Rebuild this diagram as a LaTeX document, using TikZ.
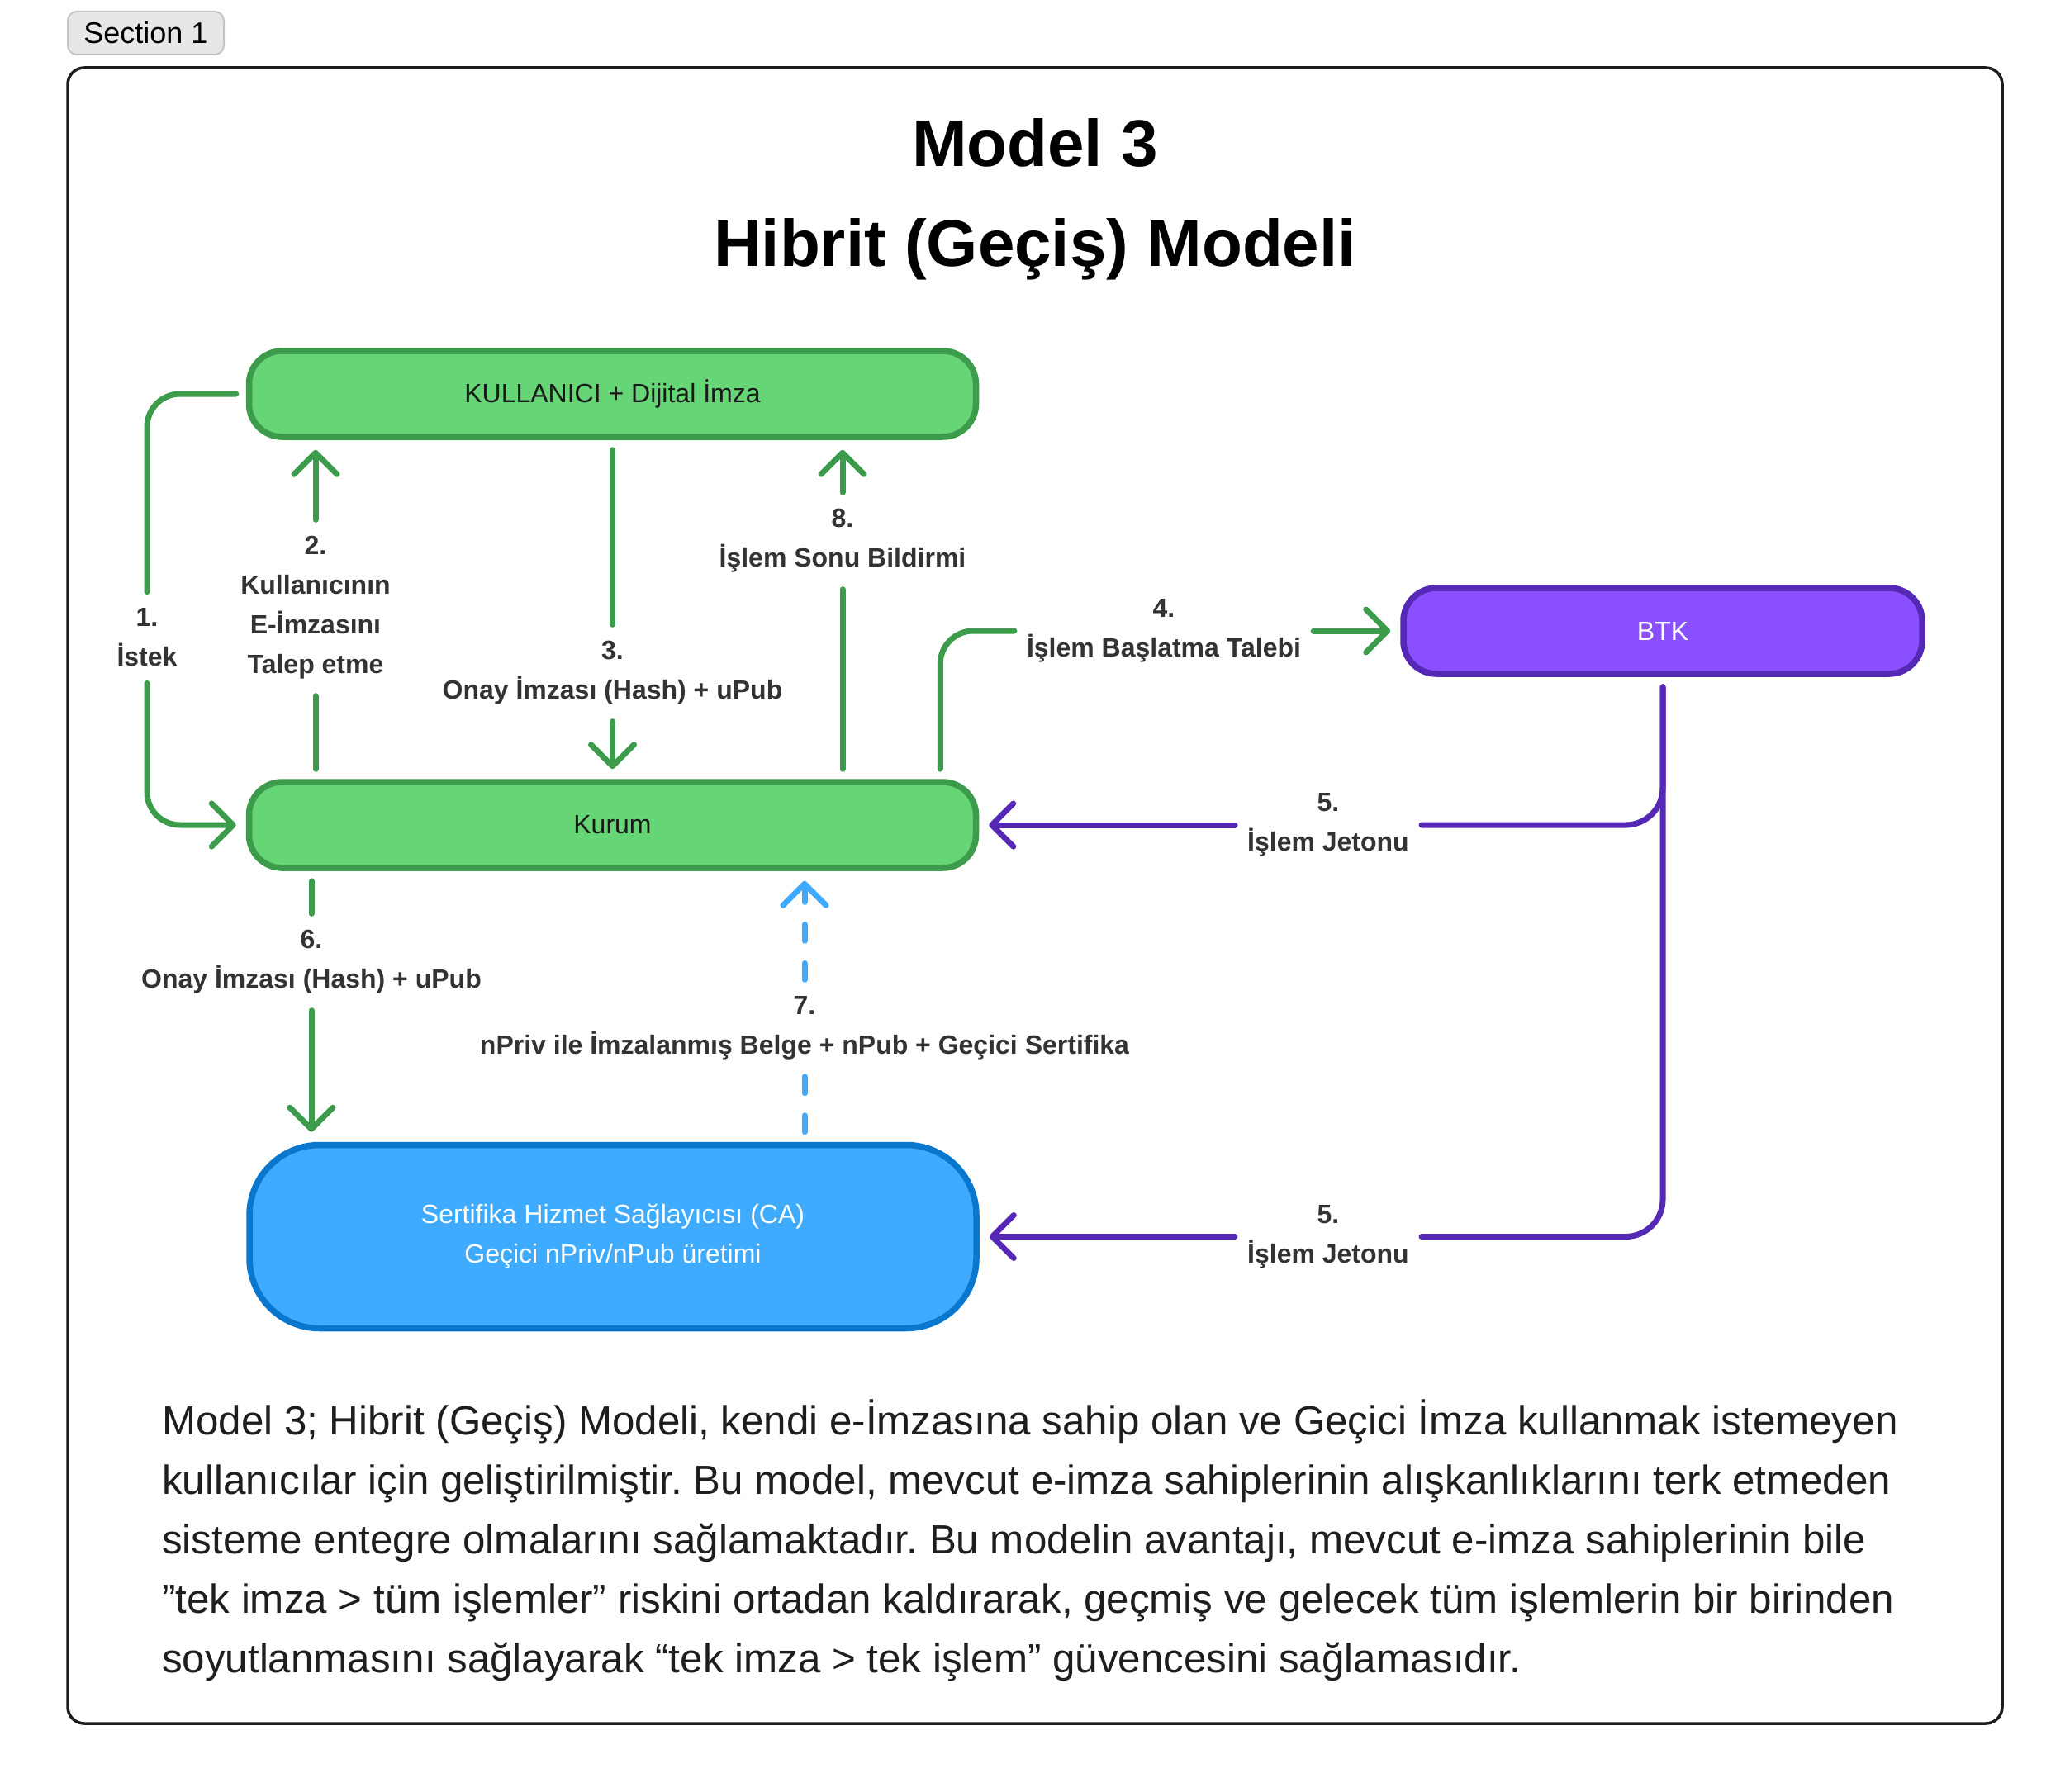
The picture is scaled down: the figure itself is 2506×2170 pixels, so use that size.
\documentclass[tikz,border=0pt]{standalone}
\usepackage{fontspec}
\setmainfont{Liberation Sans}
\usetikzlibrary{arrows.meta,calc}
\frenchspacing
\definecolor{gfill}{HTML}{66D575}
\definecolor{gdraw}{HTML}{3D9B4C}
\definecolor{pfill}{HTML}{8A50FF}
\definecolor{pdraw}{HTML}{5528B5}
\definecolor{bfill}{HTML}{3FABFF}
\definecolor{bdraw}{HTML}{0A77CF}
\definecolor{bdash}{HTML}{3FAAFF}
\definecolor{lblc}{HTML}{333333}
\definecolor{framec}{HTML}{1C1C1C}
\definecolor{tabfill}{HTML}{E7E7E7}
\definecolor{tabdraw}{HTML}{C4C4C4}
\definecolor{parac}{HTML}{1E1E1E}
\tikzset{
  boxbase/.style={rectangle, rounded corners=40pt, line width=7.5pt, minimum height=104pt,
    inner sep=0pt, font=\fontsize{32}{48}\selectfont, align=center},
  gbox/.style={boxbase, fill=gfill, draw=gdraw, text=black!90, minimum width=880pt},
  pbox/.style={boxbase, fill=pfill, draw=pdraw, text=white, minimum width=628pt},
  cabox/.style={boxbase, fill=bfill, draw=bdraw, text=white, minimum width=880pt,
    minimum height=222pt, rounded corners=85pt},
  lab/.style={font=\bfseries\fontsize{32}{48}\selectfont, text=lblc, align=center,
    inner xsep=15pt, inner ysep=20pt},
  lnk/.style={line width=7pt, line cap=round, line join=round},
  gl/.style={lnk, draw=gdraw},
  pl/.style={lnk, draw=pdraw},
  bl/.style={lnk, draw=bdash, dash pattern=on 20pt off 27pt},
  arr/.style={-{Straight Barb[length=26pt,width=52pt,round]}},
  para/.style={anchor=base west, inner sep=0pt, text=parac, font=\fontsize{49.3}{72}\selectfont},
  ttl/.style={anchor=base, inner sep=0pt, font=\bfseries\fontsize{80}{96}\selectfont},
  tab/.style={rectangle, rounded corners=11pt, fill=tabfill, draw=tabdraw, line width=2pt,
    minimum width=189pt, minimum height=52pt, inner sep=0pt, font=\fontsize{36}{40}\selectfont}
}
\begin{document}
\begin{tikzpicture}[x=1pt,y=-1pt]
\useasboundingbox (0,0) rectangle (2506,2170);
% tab and frame
\node[tab] (sec) at (176.5,40) {Section 1};
\draw[line width=3.5pt, draw=framec, rounded corners=20pt] (82,82) rectangle (2424,2087);
% title
\node[ttl] (t1) at (1253,202) {Model 3};
\node[ttl] (t2) at (1253,322) {Hibrit (Geçiş) Modeli};
% boxes
\node[gbox] (kull) at (741.5,477) {KULLANICI + Dijital İmza};
\node[gbox] (kurum) at (741.5,999) {Kurum};
\node[pbox] (btk) at (2013,764) {BTK};
\node[cabox] (ca) at (742,1497.5) {Sertifika Hizmet Sağlayıcısı (CA)\\Geçici nPriv/nPub üretimi};
% labels
\node[lab] (l1) at (178,772) {1.\\İstek};
\node[lab] (l2) at (382,736) {2.\\Kullanıcının\\E-İmzasını\\Talep etme};
\node[lab] (l3) at (741.5,815) {3.\\Onay İmzası (Hash) + uPub};
\node[lab] (l8) at (1020,655) {8.\\İşlem Sonu Bildirmi};
\node[lab] (l4) at (1409,764) {4.\\İşlem Başlatma Talebi};
\node[lab] (l5a) at (1608,999) {5.\\İşlem Jetonu};
\node[lab] (l5b) at (1608,1497.5) {5.\\İşlem Jetonu};
\node[lab] (l6) at (377,1165) {6.\\Onay İmzası (Hash) + uPub};
\node[lab] (l7) at (974,1245) {7.\\nPriv ile İmzalanmış Belge + nPub + Geçici Sertifika};
% 1
\draw[gl, rounded corners=40pt, shorten <=12pt] (kull.west) -| (l1);
\draw[gl, arr, rounded corners=40pt, shorten >=12pt] (l1) |- (kurum.west);
% 2
\draw[gl, shorten <=12pt] (kurum.north -| l2) -- (l2);
\draw[gl, arr, shorten >=12pt] (l2) -- (kull.south -| l2);
% 3
\draw[gl, shorten <=12pt] (kull.south) -- (l3);
\draw[gl, arr, shorten >=12pt] (l3) -- (kurum.north);
% 8
\draw[gl, shorten <=12pt] (kurum.north -| l8) -- (l8);
\draw[gl, arr, shorten >=12pt] (l8) -- (kull.south -| l8);
% 4
\draw[gl, rounded corners=40pt, shorten <=12pt] ([xshift=-47pt]kurum.north east) |- (l4);
\draw[gl, arr, shorten >=12pt] (l4) -- (l4 -| btk.west);
% 5a
\draw[pl, rounded corners=45pt, shorten <=12pt] (btk) |- (l5a);
\draw[pl, arr, shorten >=12pt] (l5a) -- (l5a -| kurum.east);
% 5b
\draw[pl, rounded corners=45pt, shorten <=12pt] (btk) |- (l5b);
\draw[pl, arr, shorten >=12pt] (l5b) -- (l5b -| ca.east);
% 6
\draw[gl, shorten <=12pt] (kurum.south -| l6) -- (l6);
\draw[gl, arr, shorten >=12pt] (l6) -- (ca.north -| l6);
% 7
\draw[bl, shorten <=12pt] (ca.north -| l7) -- (l7);
\draw[bl, arr, shorten >=12pt] (l7) -- (kurum.south -| l7);
% paragraph
\node[para] (p1) at (196,1737) {Model 3; Hibrit (Geçiş) Modeli, kendi e-İmzasına sahip olan ve Geçici İmza kullanmak istemeyen};
\node[para] (p2) at (196,1809) {kullanıcılar için geliştirilmiştir. Bu model, mevcut e-imza sahiplerinin alışkanlıklarını terk etmeden};
\node[para] (p3) at (196,1881) {sisteme entegre olmalarını sağlamaktadır. Bu modelin avantajı, mevcut e-imza sahiplerinin bile};
\node[para] (p4) at (196,1953) {”tek imza > tüm işlemler” riskini ortadan kaldırarak, geçmiş ve gelecek tüm işlemlerin bir birinden};
\node[para] (p5) at (196,2025) {soyutlanmasını sağlayarak “tek imza > tek işlem” güvencesini sağlamasıdır.};
\end{tikzpicture}
\end{document}
